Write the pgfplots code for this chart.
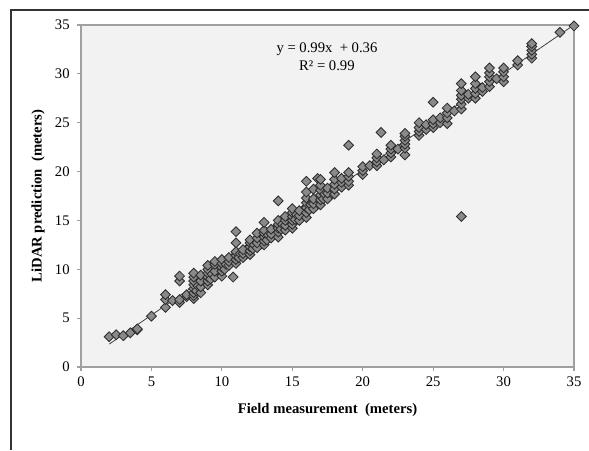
\documentclass[border=0pt]{standalone}
\usepackage{pgfplots}
\pgfplotsset{compat=1.18}
\usepackage{fontspec}
\setmainfont{Liberation Serif}

\definecolor{plotbg}{RGB}{242,242,242}
\definecolor{markfill}{RGB}{138,138,138}
\definecolor{markedge}{RGB}{45,45,45}
\definecolor{axisgray}{RGB}{160,160,160}

\begin{document}
\begin{tikzpicture}
% page = 589 x 450 px, 1 px = 0.75pt
\useasboundingbox (0,0) rectangle (441.75pt,337.5pt);
\draw[line width=1.1pt, black!80] (8.25pt,0) -- (8.25pt,330pt) -- (441.75pt,330pt);

\begin{axis}[
  at={(60.75pt,62.25pt)}, anchor=south west,
  scale only axis,
  width=369.75pt, height=256.5pt,
  xmin=0, xmax=35, ymin=0, ymax=35,
  xtick={0,5,...,35}, ytick={0,5,...,35},
  xtick pos=bottom, ytick pos=left,
  tick align=outside,
  major tick length=3pt,
  tick style={axisgray, line width=0.8pt},
  axis line style={axisgray, line width=0.8pt},
  axis background/.style={fill=plotbg},
  /pgf/number format/assume math mode=true,
  ticklabel style={font=\fontsize{11}{13}\selectfont},
  yticklabel style={xshift=-2pt},
  xticklabel style={yshift=-1pt},
  label style={font=\fontsize{11}{13}\selectfont\bfseries},
  xlabel={Field measurement\ \ (meters)},
  ylabel={LiDAR prediction\ \ (meters)},
  xlabel style={at={(axis description cs:0.5,-0.126)}, anchor=center},
  ylabel style={at={(axis description cs:-0.087,0.5)}, anchor=center},
  clip=true,
]
\addplot[only marks, mark=square*, mark size=2.6pt,
  mark options={rotate=45, fill=markfill, draw=markedge, line width=0.65pt}]
coordinates {
(2,3.1) (2.5,3.3) (3,3.2) (3.5,3.5) (4,3.8) (4,3.9) (5,5.2)
(6,6.1) (6,6.9) (6,7.4) (6.5,6.8)
(7,6.6) (7,6.9) (7,8.8) (7,9.3) (7.5,7.2) (7.5,7.4)
(8,7.0) (8,7.3) (8,7.6) (8,8.0) (8,8.4) (8,8.8) (8,9.2) (8,9.6)
(8.2,7.8) (8.3,8.3) (8.7,8.5) (8.8,9.0)
(8.5,7.6) (8.5,8.2) (8.5,8.8) (8.5,9.4)
(9,8.4) (9,8.8) (9,9.2) (9,9.6) (9,10.0) (9,10.4)
(9.2,9.0) (9.3,9.5) (9.7,9.6) (9.8,10.1)
(9.5,9.2) (9.5,9.8) (9.5,10.5) (9.5,10.8)
(10,9.3) (10,9.8) (10,10.2) (10,10.6) (10,11.0)
(10.2,10.0) (10.3,10.5) (10.7,10.7) (10.8,11.2)
(10.5,10.4) (10.5,10.8) (10.5,11.2) (10.8,9.2)
(11,10.6) (11,11.0) (11,11.4) (11,11.8) (11,12.7) (11,13.85)
(11.2,11.2) (11.3,11.6) (11.7,11.5) (11.8,12.1)
(11.5,11.2) (11.5,11.6) (11.5,12.0)
(12,11.5) (12,11.9) (12,12.3) (12,12.7) (12,13.0)
(12.2,12.1) (12.3,12.5) (12.8,12.6) (12.8,13.1)
(12.5,12.2) (12.5,12.7) (12.5,13.2) (12.5,13.7)
(13,12.5) (13,12.9) (13,13.3) (13,13.7) (13,14.0) (13,14.8)
(13.2,13.0) (13.3,13.5) (13.7,13.6) (13.8,14.2)
(13.5,13.2) (13.5,13.6) (13.5,14.1)
(14,13.3) (14,13.8) (14,14.2) (14,14.6) (14,15.0) (14,17.0)
(14.2,14.1) (14.3,14.6) (14.7,14.5) (14.8,15.1)
(14.5,14.0) (14.5,14.5) (14.5,15.0) (14.5,15.4)
(15,14.2) (15,14.6) (15,15.0) (15,15.4) (15,15.8) (15,16.2)
(15.2,15.1) (15.3,15.6) (15.7,15.5) (15.8,16.1)
(15.5,15.0) (15.5,15.5) (15.5,16.0)
(16,15.3) (16,15.8) (16,16.3) (16,16.8) (16,17.3) (16,17.9) (16,19.0)
(16.2,16.1) (16.3,16.6) (16.7,16.5) (16.8,17.1)
(16.5,16.2) (16.5,16.7) (16.5,17.2) (16.5,18.2) (16.8,19.3)
(17,16.6) (17,17.1) (17,17.6) (17,18.1) (17,18.6) (17,19.2)
(17.2,17.2) (17.3,17.7) (17.7,17.6) (17.8,18.2)
(17.5,17.2) (17.5,17.8) (17.5,18.3)
(18,17.7) (18,18.2) (18,18.7) (18,19.2) (18,19.9)
(18.5,18.4) (18.5,18.9) (18.5,19.3)
(19,18.6) (19,19.0) (19,19.5) (19,19.9) (19,22.7)
(20,19.7) (20,20.1) (20,20.5) (20.5,20.6)
(21,20.6) (21,21.0) (21,21.4) (21,21.8) (21.3,24.0) (21.5,21.2)
(22,21.5) (22,21.9) (22,22.3) (22,22.7) (22.5,22.3)
(23,21.7) (23,22.4) (23,22.8) (23,23.2) (23,23.6) (23,23.9)
(24,23.7) (24,24.1) (24,24.5) (24,25.0) (24.5,24.3) (24.5,24.8)
(25,24.5) (25,24.9) (25,25.3) (25,27.1) (25.5,25.0) (25.5,25.5)
(26,24.9) (26,25.5) (26,26.0) (26,26.5) (26.5,26.2)
(27,15.4) (27,26.4) (27,26.9) (27,27.4) (27,27.8) (27,28.3) (27,29.0)
(27.5,27.5) (27.5,27.9)
(28,27.5) (28,28.0) (28,28.5) (28,29.0) (28,29.7) (28.5,28.2) (28.5,28.6)
(29,28.7) (29,29.2) (29,29.7) (29,30.1) (29,30.6) (29.5,29.5)
(30,29.2) (30,29.7) (30,30.2) (30,30.6)
(31,30.9) (31,31.35)
(32,31.6) (32,32.0) (32,32.4) (32,32.8) (32,33.1)
(34,34.25) (35,34.9)
};
\addplot[black!75, line width=0.6pt] coordinates {(2,2.34) (35,35.01)};
\node[align=center, font=\fontsize{11}{13}\selectfont, inner sep=0pt]
  at (axis cs:17.46,31.75) {y = 0.99x\ \ + 0.36\\[1pt] R² = 0.99};
\end{axis}
\end{tikzpicture}
\end{document}
